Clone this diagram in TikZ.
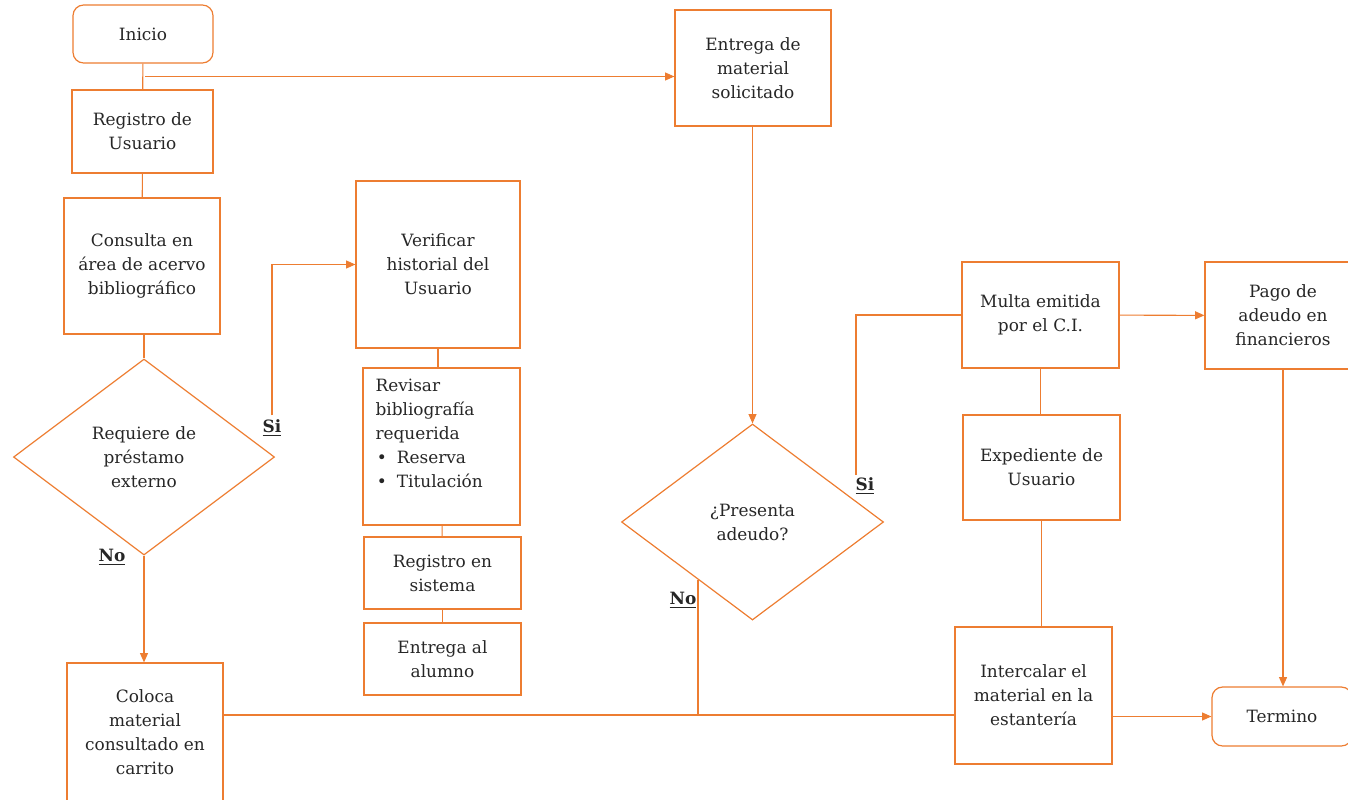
\documentclass[tikz,border=0pt]{standalone}
\usepackage{fontspec}
\setmainfont{DejaVu Serif}
\usetikzlibrary{shapes.geometric,arrows.meta}
\definecolor{naranja}{HTML}{ED7D31}
\definecolor{tinta}{HTML}{262626}

\tikzset{
  caja/.style={draw=naranja, line width=0.9pt, align=center, text=tinta, inner sep=2pt,
    font=\fontsize{12.7}{18}\selectfont},
  extremo/.style={caja, rounded corners=8pt},
  decision/.style={caja, diamond, inner sep=0pt},
  linea/.style={draw=naranja, line width=0.8pt},
  flecha/.style={linea, -{Triangle[length=7pt,width=6pt]}},
  rotulo/.style={text=tinta, font=\fontsize{12.7}{18}\selectfont\bfseries}
}

\begin{document}
\begin{tikzpicture}[x=0.75pt, y=-0.75pt]
  \clip (0,0) rectangle (1348,799);

  % columna izquierda
  \node[extremo, minimum width=105pt, minimum height=43.5pt] (inicio) at (143,34) {Inicio};
  \node[caja, minimum width=105.75pt, minimum height=62.25pt] (regusuario) at (142.5,131.5) {Registro de\\Usuario};
  \node[caja, minimum width=117pt, minimum height=102pt] (consulta) at (142,266) {Consulta en\\área de acervo\\bibliográfico};
  \node[decision, minimum width=195.75pt, minimum height=147pt] (requiere) at (144,457) {Requiere de\\préstamo\\externo};
  \node[caja, minimum width=117pt, minimum height=103.5pt] (coloca) at (145,732) {Coloca\\material\\consultado en\\carrito};

  % columna de prestamo
  \node[caja, minimum width=123pt, minimum height=125.25pt] (verificar) at (438,264.5) {Verificar\\historial del\\Usuario};
  \node[caja, align=left, text width=99pt, inner xsep=9.375pt, text depth=92.5pt,
        minimum height=117.75pt] (revisar) at (441.5,446.5)
        {Revisar\\bibliografía\\requerida\\\hspace*{1pt}\makebox[15pt][l]{\textbullet}Reserva\\\hspace*{1pt}\makebox[15pt][l]{\textbullet}Titulación};
  \node[caja, minimum width=117.75pt, minimum height=54pt] (regsistema) at (442.5,573) {Registro en\\sistema};
  \node[caja, minimum width=117.75pt, minimum height=54pt] (entregaal) at (442.5,659) {Entrega al\\alumno};

  % devolucion
  \node[caja, minimum width=117pt, minimum height=87pt] (entregamat) at (753,68) {Entrega de\\material\\solicitado};
  \node[decision, minimum width=196.5pt, minimum height=147pt] (presenta) at (752.5,522) {¿Presenta\\adeudo?};
  \node[caja, minimum width=117.75pt, minimum height=79.5pt] (multa) at (1040.5,315) {Multa emitida\\por el C.I.};
  \node[caja, minimum width=117pt, minimum height=80.25pt] (pago) at (1283,315.5) {Pago de\\adeudo en\\financieros};
  \node[caja, minimum width=117.75pt, minimum height=78.75pt] (expediente) at (1041.5,467.5) {Expediente de\\Usuario};
  \node[caja, minimum width=117.75pt, minimum height=102.75pt] (intercalar) at (1033.5,695.5) {Intercalar el\\material en la\\estantería};
  \node[extremo, minimum width=105pt, minimum height=44.25pt] (termino) at (1282,716.5) {Termino};

  % rotulos
  \node[rotulo] (sia) at (272,428) {\underline{Si}};
  \node[rotulo] (noa) at (112,557) {\underline{No}};
  \node[rotulo] (sib) at (865,486) {\underline{Si}};
  \node[rotulo] (nob) at (683,600) {\underline{No}};

  \coordinate (rama) at (145,76.5);
  \coordinate (union) at (698,715);
  \coordinate (nob1) at (698,580);
  \coordinate (sib1) at (856,475);

  % conexiones
  \draw[linea] (inicio) -- (regusuario);
  \draw[flecha] (rama) -- (entregamat.west |- rama);
  \draw[linea] (regusuario) -- (consulta);
  \draw[linea] (requiere.north |- consulta.south) -- (requiere.north);
  \draw[flecha] (sia.north) |- (verificar.west);
  \draw[flecha] (requiere.south) -- (requiere.south |- coloca.north);
  \draw[linea] (coloca.east |- union) -- (intercalar.west |- union);
  \draw[linea] (nob1) -- (union);
  \draw[linea] (verificar) -- (revisar.north -| verificar);
  \draw[linea] (revisar) -- (regsistema);
  \draw[linea] (regsistema) -- (entregaal);
  \draw[flecha] (entregamat.south -| presenta) -- (presenta.north);
  \draw[linea] (sib1) |- (multa.west);
  \draw[flecha] (multa) -- (pago);
  \draw[linea] (multa.south) -- (multa.south |- expediente.north);
  \draw[linea] (expediente) -- (intercalar.north -| expediente);
  \draw[flecha] (intercalar.east |- termino.west) -- (termino.west);
  \draw[flecha] (pago.south) -- (pago.south |- termino.north);
\end{tikzpicture}
\end{document}
